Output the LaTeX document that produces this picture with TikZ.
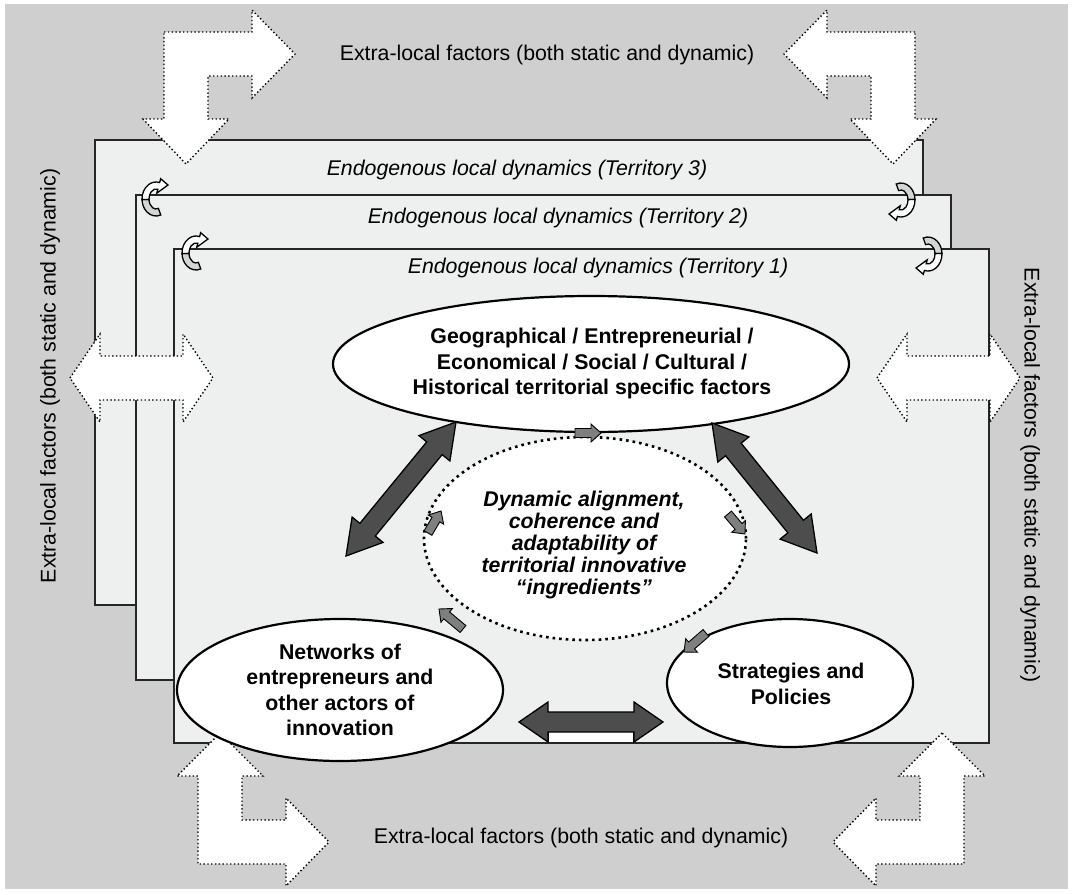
\documentclass[tikz,border=0pt]{standalone}
\usepackage{fontspec}
\setmainfont{Liberation Sans}
\usetikzlibrary{calc,shapes.geometric}

\definecolor{bggray}{HTML}{CFCFCF}
\definecolor{panel}{HTML}{EEF0EF}
\definecolor{darkarrow}{HTML}{4D4D4D}
\definecolor{midarrow}{HTML}{7F7F7F}
\definecolor{curlback}{HTML}{D4D4D4}

\tikzset{
  territory/.style={draw=black!85, line width=1.6pt, fill=panel},
  outerarrow/.style={fill=white, draw=black, line width=1.4pt,
    dash pattern=on 1.4pt off 2.4pt},
  factor/.style={ellipse, draw=black, line width=2.2pt, fill=white, inner sep=0pt},
  alignment/.style={ellipse, draw=black, line width=2.6pt, fill=white, inner sep=0pt,
    dash pattern=on 2.6pt off 4pt},
  bigtext/.style={font=\fontsize{21.3}{25.5}\selectfont\bfseries, align=center},
  midtext/.style={font=\fontsize{21.3}{22}\selectfont\bfseries\itshape, align=center},
  titletext/.style={font=\fontsize{21.3}{24}\selectfont\itshape},
  extratext/.style={font=\fontsize{21.3}{24}\selectfont},
  darkblock/.style={fill=darkarrow, draw=black, line width=1.3pt, line join=miter},
  smallblock/.style={fill=midarrow, draw=black, line width=0.9pt},
  smallshadow/.style={fill=black!22, draw=none},
  curlbackfill/.style={fill=curlback, draw=black, line width=1.3pt},
  curlfrontfill/.style={fill=white, draw=black, line width=1.3pt},
}

% double-headed block arrow between two named points
% #1 style, #2 #3 tips, #4 half shaft, #5 half head, #6 head length
\newcommand\blockdbl[6]{%
  \coordinate (hA) at ($(#2)!#6!(#3)$);
  \coordinate (hB) at ($(#3)!#6!(#2)$);
  \path[#1] (#2) -- ($(hA)!#5!90:(#3)$) -- ($(hA)!#4!90:(#3)$)
    -- ($(hB)!#4!-90:(#2)$) -- ($(hB)!#5!-90:(#2)$) -- (#3)
    -- ($(hB)!#5!90:(#2)$) -- ($(hB)!#4!90:(#2)$)
    -- ($(hA)!#4!-90:(#3)$) -- ($(hA)!#5!-90:(#3)$) -- cycle;}

% single block arrow from tail #2 to tip #3
\newcommand\blocksgl[6]{%
  \coordinate (hC) at ($(#3)!#6!(#2)$);
  \path[#1] ($(#2)!#4!90:(#3)$) -- ($(hC)!#4!-90:(#2)$) -- ($(hC)!#5!-90:(#2)$)
    -- (#3) -- ($(hC)!#5!90:(#2)$) -- ($(hC)!#4!90:(#2)$)
    -- ($(#2)!#4!-90:(#3)$) -- cycle;}

% small twisted ribbon arrow at a panel corner
\newcommand\curl[2]{%
  \begin{scope}[shift={#1}, rotate=#2]
    \path[curlbackfill] (70:7 and 10) -- (70:14 and 17)
      arc[start angle=70, end angle=178, x radius=14, y radius=17]
      -- (178:7 and 10)
      arc[start angle=178, end angle=70, x radius=7, y radius=10] -- cycle;
    \path[curlfrontfill] (178:7 and 10) -- (178:14 and 17)
      arc[start angle=178, end angle=285, x radius=14, y radius=17]
      -- (285:18 and 21) -- (12,-14) -- (285:3 and 6) -- (285:7 and 10)
      arc[start angle=285, end angle=178, x radius=7, y radius=10] -- cycle;
  \end{scope}}

\begin{document}
\begin{tikzpicture}[x=1pt, y=1pt, yscale=-1, line join=miter]
  \useasboundingbox (0,0) rectangle (1073,894);
  \fill[white] (0,0) rectangle (1073,894);
  \fill[bggray] (5,4) rectangle (1068,889);

  % extra-local factors on the four sides
  \node[extratext] (ttop) at (547,55) {Extra-local factors (both static and dynamic)};
  \node[extratext] (tbot) at (581,838) {Extra-local factors (both static and dynamic)};
  \node[extratext, rotate=90] (tleft) at (50,376) {Extra-local factors (both static and dynamic)};
  \node[extratext, rotate=-90] (tright) at (1030,475) {Extra-local factors (both static and dynamic)};

  % territories
  \path[territory] (95,140) rectangle (923,605);
  \path[territory] (136,195) rectangle (951,680);
  \path[territory] (174,249) rectangle (989,743);

  \node[titletext] (t3) at (517,170) {Endogenous local dynamics (Territory 3)};
  \node[titletext] (t2) at (558,218) {Endogenous local dynamics (Territory 2)};
  \node[titletext] (t1) at (598,268) {Endogenous local dynamics (Territory 1)};

  % ribbons linking the territories
  \curl{(156,199)}{0}
  \curl{(196,253)}{0}
  \curl{(901,200)}{180}
  \curl{(928,254)}{180}

  % outer exchanges (dotted block arrows)
  \path[outerarrow] (164,32) -- (252,32) -- (252,10) -- (295,54) -- (252,98)
    -- (252,76) -- (208,76) -- (208,119) -- (229,119) -- (186,164)
    -- (143,119) -- (164,119) -- cycle;
  \path[outerarrow] (915,32) -- (827,32) -- (827,10) -- (784,54) -- (827,98)
    -- (827,76) -- (871,76) -- (871,119) -- (850,119) -- (893,164)
    -- (936,119) -- (915,119) -- cycle;
  \path[outerarrow] (220,733) -- (263,776) -- (242,776) -- (242,820) -- (286,820)
    -- (286,798) -- (329,842) -- (286,886) -- (286,864) -- (198,864)
    -- (198,776) -- (177,776) -- cycle;
  \path[outerarrow] (942,733) -- (899,776) -- (920,776) -- (920,820) -- (876,820)
    -- (876,798) -- (833,842) -- (876,886) -- (876,864) -- (964,864)
    -- (964,776) -- (985,776) -- cycle;
  \path[outerarrow] (70,378) -- (100,334) -- (100,356) -- (183,356) -- (183,334)
    -- (213,378) -- (183,422) -- (183,400) -- (100,400) -- (100,422) -- cycle;
  \path[outerarrow] (877,378) -- (907,334) -- (907,356) -- (990,356) -- (990,334)
    -- (1020,378) -- (990,422) -- (990,400) -- (907,400) -- (907,422) -- cycle;

  % the four ingredients
  \node[factor, minimum width=516pt, minimum height=136pt] (geo) at (591,364) {};
  \node[alignment, minimum width=322pt, minimum height=203pt] (align) at (585,538.5) {};
  \node[factor, minimum width=326pt, minimum height=142pt] (net) at (340,690) {};
  \node[factor, minimum width=246pt, minimum height=128pt] (strat) at (790,683) {};

  \node[bigtext] (geotext) at (592,363.5)
    {Geographical / Entrepreneurial /\\Economical / Social / Cultural /\\Historical territorial specific factors};
  \node[midtext] (aligntext) at (584,545)
    {Dynamic alignment,\\coherence and\\adaptability of\\territorial innovative\\“ingredients”};
  \node[bigtext] (nettext) at (340,690)
    {Networks of\\entrepreneurs and\\other actors of\\innovation};
  \node[bigtext] (strattext) at (791,684) {Strategies and\\Policies};

  % mutual influences between ingredients
  \coordinate (geoSW) at (456,422);
  \coordinate (netN) at (346,556);
  \coordinate (geoSE) at (712,423);
  \coordinate (stratN) at (817,553);
  \coordinate (netE) at (519,722);
  \coordinate (stratW) at (663,722);
  \blockdbl{darkblock}{geoSW}{netN}{10pt}{20pt}{34pt}
  \blockdbl{darkblock}{geoSE}{stratN}{10pt}{20pt}{34pt}
  \path[fill=white, draw=none] (548,732) rectangle (634,742);
  \draw[line width=1.3pt] (548,732) -- (548,742) (634,732) -- (634,742);
  \blockdbl{darkblock}{netE}{stratW}{10pt}{20pt}{29pt}

  % feeding arrows into the alignment
  \coordinate (a1) at (575,433);  \coordinate (b1) at (601,433);
  \coordinate (a2) at (428,533);  \coordinate (b2) at (441,511);
  \coordinate (a3) at (728,514);  \coordinate (b3) at (745,534);
  \coordinate (a4) at (706,633);  \coordinate (b4) at (684,652);
  \coordinate (a5) at (463,629);  \coordinate (b5) at (439,609);
  \begin{scope}[shift={(1.5,2)}]
    \blocksgl{smallshadow}{a1}{b1}{4.5pt}{9pt}{10pt}
    \blocksgl{smallshadow}{a2}{b2}{4.5pt}{9pt}{10pt}
    \blocksgl{smallshadow}{a3}{b3}{4.5pt}{9pt}{10pt}
    \blocksgl{smallshadow}{a4}{b4}{4.5pt}{9pt}{10pt}
    \blocksgl{smallshadow}{a5}{b5}{4.5pt}{9pt}{10pt}
  \end{scope}
  \blocksgl{smallblock}{a1}{b1}{4.5pt}{9pt}{10pt}
  \blocksgl{smallblock}{a2}{b2}{4.5pt}{9pt}{10pt}
  \blocksgl{smallblock}{a3}{b3}{4.5pt}{9pt}{10pt}
  \blocksgl{smallblock}{a4}{b4}{4.5pt}{9pt}{10pt}
  \blocksgl{smallblock}{a5}{b5}{4.5pt}{9pt}{10pt}
\end{tikzpicture}
\end{document}
